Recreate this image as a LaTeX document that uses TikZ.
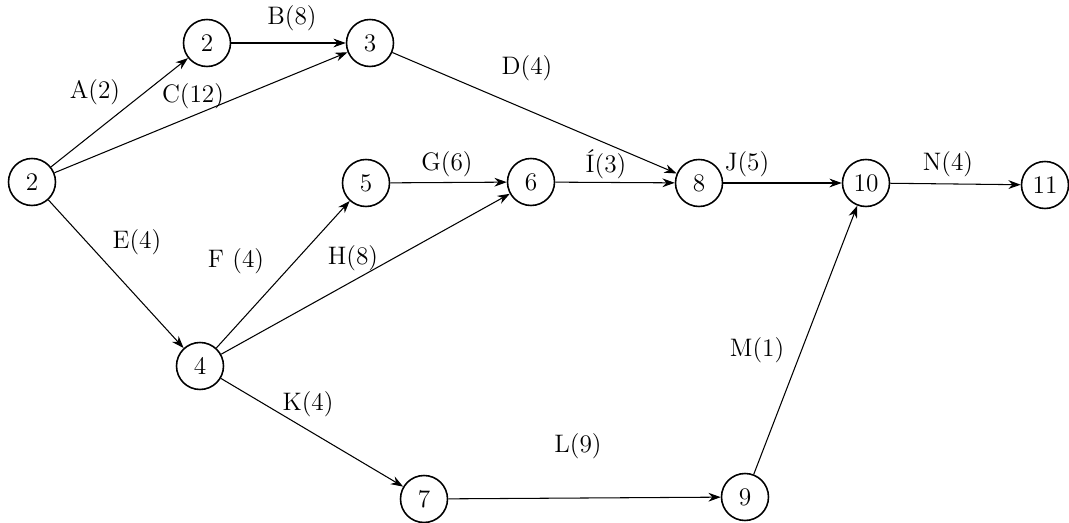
\documentclass[tikz,border=0pt]{standalone}
\usetikzlibrary{arrows.meta}
\begin{document}
\begin{tikzpicture}[x=0.02cm, y=-0.02cm, >={Stealth[length=7pt,width=5pt]},
    event/.style={draw, circle, line width=0.9pt, minimum size=0.94cm, inner sep=0pt, font=\Large},
    act/.style={->, line width=0.6pt},
    lab/.style={font=\Large, inner sep=1pt}]
    \useasboundingbox (0,0) rectangle (1069,523);

    % 1. 事件节点
    \node[event] (e1)  at (32,182)   {2};
    \node[event] (e2)  at (207,43)   {2};
    \node[event] (e3)  at (370,43)   {3};
    \node[event] (e4)  at (200,366)  {4};
    \node[event] (e5)  at (366,183)  {5};
    \node[event] (e6)  at (531,182)  {6};
    \node[event] (e8)  at (699,183)  {8};
    \node[event] (e10) at (866,183)  {10};
    \node[event] (e11) at (1045,185) {11};
    \node[event] (e7)  at (424,499)  {7};
    \node[event] (e9)  at (745,497)  {9};

    % 2. 工作箭线
    \draw[act] (e1) -- (e2);
    \draw[act] (e1) -- (e3);
    \draw[act] (e1) -- (e4);
    \draw[act] (e2) -- (e3);
    \draw[act] (e3) -- (e8);
    \draw[act] (e4) -- (e5);
    \draw[act] (e4) -- (e6);
    \draw[act] (e4) -- (e7);
    \draw[act] (e5) -- (e6);
    \draw[act] (e6) -- (e8);
    \draw[act] (e8) -- (e10);
    \draw[act] (e10) -- (e11);
    \draw[act] (e7) -- (e9);
    \draw[act] (e9) -- (e10);

    % 3. 工作名称与持续时间
    \node[lab] (lA) at (95,92)   {A(2)};
    \node[lab] (lB) at (292,18)  {B(8)};
    \node[lab] (lC) at (193,96)  {C(12)};
    \node[lab] (lD) at (527,68)  {D(4)};
    \node[lab] (lE) at (137,242) {E(4)};
    \node[lab] (lF) at (236,261) {F (4)};
    \node[lab] (lH) at (353,258) {H(8)};
    \node[lab] (lG) at (447,164) {G(6)};
    \node[lab] (lI) at (606,164) {Í(3)};
    \node[lab] (lJ) at (747,164) {J(5)};
    \node[lab] (lN) at (948,164) {N(4)};
    \node[lab] (lM) at (757,350) {M(1)};
    \node[lab] (lK) at (308,404) {K(4)};
    \node[lab] (lL) at (578,446) {L(9)};

\end{tikzpicture}
\end{document}
